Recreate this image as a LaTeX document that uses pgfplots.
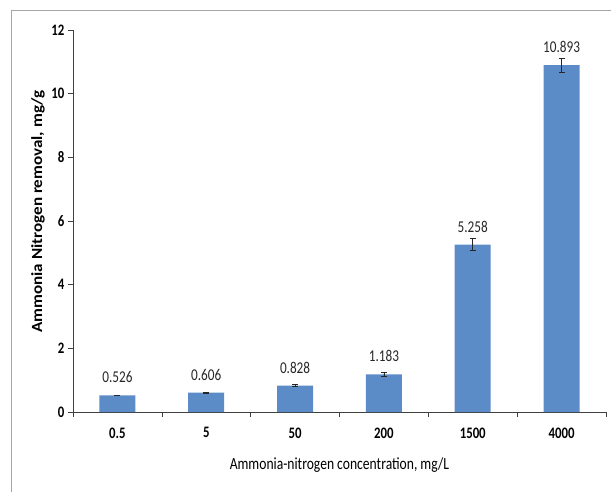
\documentclass[border=0pt]{standalone}
\usepackage{fontspec}
\setmainfont{Carlito}[FakeStretch=0.8]
\newfontfamily\ylabfont{Carlito}[FakeStretch=1.1]
\usepackage{pgfplots}
\usepackage{pgfplotstable}
\pgfplotsset{compat=1.18}
\definecolor{barblue}{HTML}{5B8CC7}
\definecolor{framegray}{HTML}{A6A6A6}
\definecolor{axisgray}{HTML}{404040}

% removal per concentration, error = half height of the error bar
\pgfplotstableread{
x y err lab
0 0.526 0.010 0.526
1 0.606 0.010 0.606
2 0.828 0.030 0.828
3 1.183 0.070 1.183
4 5.258 0.190 5.258
5 10.893 0.220 10.893
}\removaldata

\begin{document}
\begin{tikzpicture}[x=1pt,y=1pt]
\path[use as bounding box] (0,0) rectangle (611,491);
\draw[framegray, line width=0.8pt] (11,-2) -- (11,481) -- (613,481);
\begin{axis}[
    at={(73pt,79pt)}, anchor=south west,
    scale only axis, width=533pt, height=382pt,
    xmin=-0.5, xmax=5.5, ymin=0, ymax=12,
    axis x line*=bottom, axis y line*=left,
    axis line style={-, axisgray, line width=0.6pt},
    tick align=outside, tick style={axisgray, line width=0.6pt},
    xtick={0,...,5}, xticklabels={0.5,5,50,200,1500,4000},
    major x tick style={draw=none},
    minor xtick={-0.5,0.5,...,5.5},
    major tick length=5pt, minor tick length=5pt,
    ytick={0,2,...,12},
    /pgf/number format/assume math mode=true,
    tick label style={font=\bfseries\fontsize{16}{18}\selectfont},
    xticklabel style={yshift=-7pt},
    xlabel={Ammonia-nitrogen concentration, mg/L},
    ylabel={Ammonia Nitrogen removal, mg/g},
    xlabel style={at={(axis description cs:0.5,-0.1387)}, anchor=center,
        font=\fontsize{17}{19}\selectfont},
    ylabel style={at={(axis description cs:-0.0657,0.525)}, anchor=center,
        font=\ylabfont\bfseries\fontsize{15.5}{17}\selectfont},
    clip=false,
]
\addplot[ybar, bar width=36pt, fill=barblue, draw=none,
    point meta=explicit symbolic,
    nodes near coords,
    every node near coord/.append style={anchor=center, yshift=18pt,
        font=\fontsize{16.5}{18}\selectfont, text=black!85},
    error bars/.cd, y dir=both, y explicit,
    error bar style={black!85, line width=0.6pt},
    error mark options={rotate=90, mark size=3pt, black!85, line width=0.6pt},
] table[x=x, y=y, y error=err, meta=lab] {\removaldata};
\end{axis}
\end{tikzpicture}
\end{document}
